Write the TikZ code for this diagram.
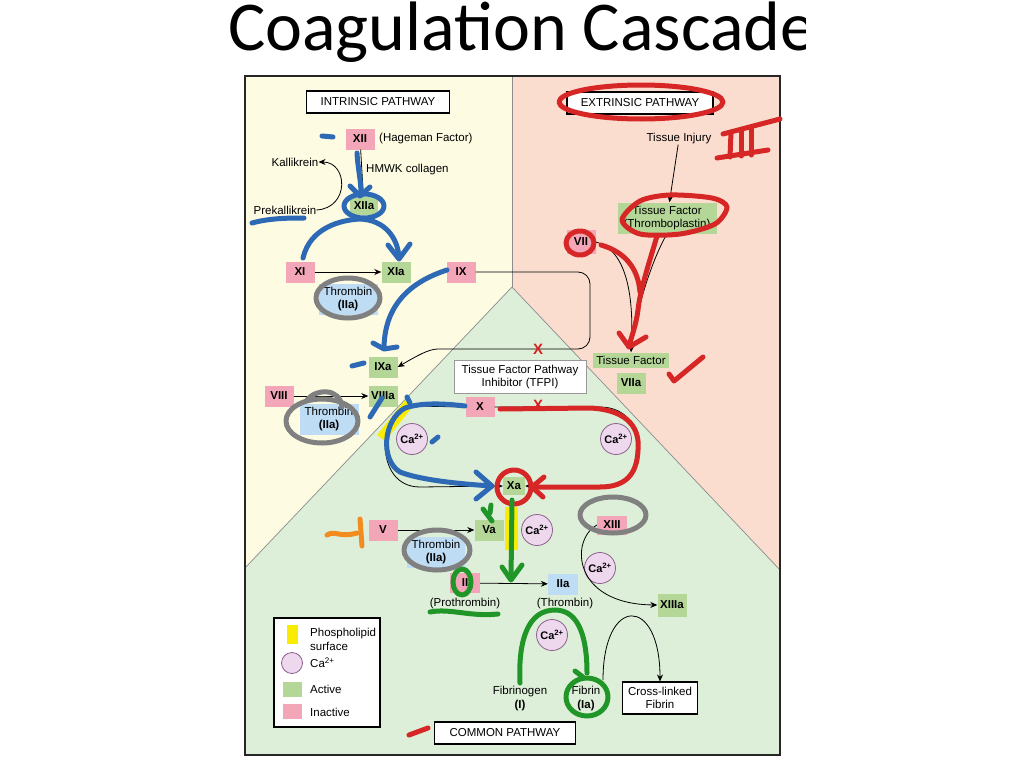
\documentclass[tikz,border=0pt]{standalone}
\usepackage{fontspec}
\setmainfont{Liberation Sans}
\newfontfamily\titlefont{Carlito}
\usetikzlibrary{arrows.meta,calc}
\definecolor{bgY}{RGB}{253,251,226}
\definecolor{bgR}{RGB}{251,221,207}
\definecolor{bgG}{RGB}{222,239,217}
\definecolor{pinkC}{RGB}{243,166,184}
\definecolor{greenC}{RGB}{180,215,152}
\definecolor{blueC}{RGB}{190,220,244}
\definecolor{caFill}{RGB}{238,216,238}
\definecolor{caDraw}{RGB}{140,95,140}
\definecolor{penBlue}{RGB}{45,105,180}
\definecolor{penRed}{RGB}{214,38,38}
\definecolor{penGreen}{RGB}{32,150,40}
\definecolor{penGray}{RGB}{128,128,128}
\definecolor{penOrange}{RGB}{242,140,30}
\definecolor{yel}{RGB}{250,236,0}
\definecolor{xred}{RGB}{220,30,30}
\tikzset{
  lbl/.style={font=\fontsize{11.5}{14}\selectfont, inner sep=0, align=center},
  fbox/.style={minimum width=29pt, minimum height=21pt, inner sep=0, font=\fontsize{11.5}{14}\selectfont\bfseries},
  pinkb/.style={fbox, fill=pinkC},
  greenb/.style={fbox, fill=greenC},
  blueb/.style={fbox, fill=blueC},
  thr/.style={fill=blueC, minimum width=59pt, minimum height=31pt, inner sep=0, align=center, font=\fontsize{11.5}{13.5}\selectfont},
  ca/.style={circle, draw=caDraw, line width=0.8pt, fill=caFill, minimum size=31pt, inner sep=0, font=\fontsize{11}{12}\selectfont\bfseries},
  hdr/.style={draw=black, fill=white, line width=1.1pt, minimum height=22pt, inner sep=0, font=\fontsize{11.5}{14}\selectfont},
  arr/.style={-{Stealth[length=7pt,width=6pt]}, line width=0.8pt},
  pen/.style={line width=5pt, line cap=round, line join=round},
  xmark/.style={text=xred, font=\fontsize{15}{15}\selectfont\bfseries, inner sep=0},
}
\begin{document}
\begin{tikzpicture}[x=1pt,y=-1pt]
\useasboundingbox (0,0) rectangle (1024,768);
\fill[white] (0,0) rectangle (1024,768);
% title
\node[anchor=base west, inner sep=0, font=\titlefont\fontsize{70}{80}\selectfont] (title) at (228,50) {Coagulation Cascade};
\fill[white] (806,0) rectangle (1024,72);
% backgrounds
\fill[bgY] (245,76) -- (512,76) -- (512,287) -- (245,568) -- cycle;
\fill[bgR] (512,76) -- (780,76) -- (780,570) -- (512,287) -- cycle;
\fill[bgG] (245,568) -- (512,287) -- (780,570) -- (780,755) -- (245,755) -- cycle;
\draw[black!45, line width=0.7pt] (512,76) -- (512,287);
\draw[black!45, line width=0.7pt] (245,568) -- (512,287) -- (780,570);
\draw[black!85, line width=1.6pt] (245,76) rectangle (780,755);
% headers
\node[hdr, minimum width=143pt] (intr) at (378,102) {INTRINSIC PATHWAY};
\node[hdr, minimum width=146pt] (extr) at (640,103) {EXTRINSIC PATHWAY};
\node[hdr, minimum width=141pt] (comm) at (505,733) {COMMON PATHWAY};
% intrinsic
\node[pinkb] (xii) at (360,139) {XII};
\node[lbl, anchor=west] (hag) at (379,139) {(Hageman Factor)};
\node[lbl] (kall) at (295,162) {Kallikrein};
\node[lbl, anchor=west] (hmwk) at (366,170) {HMWK collagen};
\node[greenb, minimum width=28pt, minimum height=18pt] (xiia) at (364,206) {XIIa};
\node[lbl] (prek) at (285,210) {Prekallikrein};
\node[pinkb] (xi) at (300,272) {XI};
\node[greenb] (xia) at (396,272) {XIa};
\node[pinkb] (ix) at (461,272) {IX};
\node[thr] (thr1) at (348,299) {Thrombin\\\textbf{(IIa)}};
\node[greenb] (ixa) at (383,367) {IXa};
\node[pinkb] (viii) at (279,396) {VIII};
\node[greenb] (viiia) at (383,396) {VIIIa};
\node[thr] (thr2) at (329,419) {Thrombin\\\textbf{(IIa)}};
\draw[arr] (xii) -- (xiia);
\draw[arr] (prek.east) .. controls (350,208) and (348,162) .. (kall.east);
\draw[arr] (xi) -- (xia);
\draw[arr] (viii) -- (viiia);
\draw[arr, rounded corners=12pt] (ix.east) -- (590,272) -- (590,349) -- (450,349) to[out=180,in=30] (ixa.east);
% extrinsic
\node[lbl] (inj) at (679,139) {Tissue Injury};
\node[fill=greenC, minimum width=99pt, minimum height=31pt, inner sep=0, align=center, font=\fontsize{11.5}{13.5}\selectfont] (tf) at (667,218) {Tissue Factor\\(Thromboplastin)};
\node[pinkb, minimum height=24pt] (vii) at (581,242) {VII};
\node[fill=greenC, minimum width=76pt, minimum height=15pt, inner sep=0, font=\fontsize{11.5}{14}\selectfont] (tfa) at (631,360) {Tissue Factor};
\node[greenb] (viia) at (631,383) {VIIa};
\draw[arr] (inj) -- (tf);
\draw[arr] (vii.east) .. controls (628,250) and (634,300) .. (tfa.north);
\draw[line width=0.8pt] (tf.south) .. controls (652,260) and (640,300) .. (634,330);
% common
\node[draw=black!40, fill=white, minimum width=132pt, minimum height=33pt, inner sep=0, align=center, font=\fontsize{11.5}{13.5}\selectfont] (tfpi) at (520,377) {Tissue Factor Pathway\\Inhibitor (TFPI)};
\node[pinkb, minimum height=20pt] (x) at (480,407) {X};
\node[greenb, minimum width=22pt, minimum height=18pt] (xa) at (514,486) {Xa};
\node[ca] (ca1) at (412,439) {Ca\textsuperscript{2+}};
\node[ca] (ca2) at (616,439) {Ca\textsuperscript{2+}};
\draw[arr] (x.west) -- (412,406) .. controls (378,406) and (372,487) .. (420,487) -- (xa.west);
\draw[arr] (x.east) -- (600,407) .. controls (652,407) and (652,487) .. (600,487) -- (xa.east);
\node[xmark] (xm1) at (538,349) {X};
\node[xmark] (xm2) at (538,405) {X};
\node[pinkb] (v) at (383,530) {V};
\node[greenb] (va) at (489,530) {Va};
\node[thr, minimum width=58pt] (thr3) at (436,552) {Thrombin\\\textbf{(IIa)}};
\node[ca] (ca3) at (537,530) {Ca\textsuperscript{2+}};
\node[pinkb, minimum width=30pt, minimum height=20pt] (ii) at (465,583) {II};
\node[lbl] (proth) at (465,604) {(Prothrombin)};
\node[blueb, minimum width=30pt] (iia) at (563,584) {IIa};
\node[lbl] (thrt) at (565,604) {(Thrombin)};
\draw[arr] (v) -- (va);
\draw[arr] (ii) -- (iia);
\node[pinkb, minimum width=30pt, minimum height=19pt] (xiii) at (612,525) {XIII};
\node[ca] (ca4) at (600,568) {Ca\textsuperscript{2+}};
\node[greenb, minimum height=23pt] (xiiia) at (672,605) {XIIIa};
\draw[arr] (xiii.west) .. controls (570,540) and (572,604) .. (xiiia.west);
\node[ca] (ca5) at (552,635) {Ca\textsuperscript{2+}};
\node[lbl] (fgen) at (520,699) {Fibrinogen\\\textbf{(I)}};
\node[lbl] (fib) at (586,699) {Fibrin\\\textbf{(Ia)}};
\node[draw=black, fill=white, line width=1.1pt, minimum width=75pt, minimum height=32pt, inner sep=0, align=center, font=\fontsize{11.5}{13.5}\selectfont] (cross) at (660,698) {Cross-linked\\Fibrin};
\draw[arr] (603,680) .. controls (603,595) and (660,595) .. (cross.north);
% legend
\node[draw=black, fill=white, line width=1.2pt, minimum width=106pt, minimum height=109pt, inner sep=0] (leg) at (327,672.5) {};
\fill[yel] (287,625) rectangle (298,644);
\node[lbl, anchor=west, align=left] (lg1) at (310,639) {Phospholipid\\surface};
\node[circle, draw=caDraw, line width=0.8pt, fill=caFill, minimum size=21pt, inner sep=0] (lgc) at (292,663) {};
\node[lbl, anchor=west] (lg2) at (310,663) {Ca\textsuperscript{2+}};
\fill[greenC] (283,682) rectangle (302,697);
\node[lbl, anchor=west] (lg3) at (310,689) {Active};
\fill[pinkC] (283,704) rectangle (302,719);
\node[lbl, anchor=west] (lg4) at (310,712) {Inactive};
% phospholipid surfaces
\draw[yel, line width=10pt] (381,438) -- (410,402);
\fill[yel] (505,507) rectangle (518,550);
% ===== hand-drawn annotations =====
% blue
\begin{scope}[pen, penBlue]
\draw (322,136) -- (333,137);
\draw (357,153) .. controls (358,170) and (361,180) .. (361,194);
\draw (350,186) -- (360,196) -- (370,187);
\draw (364,206) ellipse [x radius=20pt, y radius=12pt];
\draw (252,223) .. controls (270,218) and (290,218) .. (304,218);
\draw (303,258) .. controls (310,228) and (340,220) .. (360,219) .. controls (385,220) and (398,238) .. (399,258);
\draw (388,245) -- (399,259) -- (410,244);
\draw (447,270) .. controls (410,282) and (385,305) .. (384,347);
\draw (373,343) -- (384,349) -- (397,347);
\draw (352,366) -- (364,363);
\draw (382,398) -- (370,417);
\draw (465,406) .. controls (440,403) and (420,403) .. (405,408) .. controls (383,420) and (380,460) .. (400,472) .. controls (420,480) and (460,484) .. (492,486);
\draw (476,472) -- (492,486) -- (476,499);
\draw (407,397) -- (410,403);
\draw (432,442) -- (438,437);
\end{scope}
% red
\begin{scope}[pen, penRed]
\draw (641,102) ellipse [x radius=82pt, y radius=17pt];
\draw (723,134) -- (780,119);
\draw (731,132) -- (730,157);
\draw (741,131) -- (741,156);
\draw (751,129) -- (751,155);
\draw (717,158) -- (768,150);
\draw plot[smooth cycle] coordinates {(622,220) (640,201) (670,195) (712,198) (727,207) (715,224) (680,234) (640,234)};
\draw (657,236) .. controls (650,260) and (640,290) .. (638,310) .. controls (636,325) and (632,335) .. (629,346);
\draw (619,333) -- (629,347) -- (646,337);
\draw (601,245) .. controls (625,252) and (638,268) .. (640,292);
\draw (580,243) ellipse [x radius=14pt, y radius=12pt];
\draw (669,374) -- (674,381) -- (703,357);
\draw (500,409) -- (590,408) .. controls (630,410) and (640,430) .. (638,450) .. controls (637,475) and (625,487) .. (600,487) -- (532,487);
\draw (544,477) -- (532,487) -- (543,497);
\draw (514,487) circle [radius=17pt];
\draw (409,735) -- (428,728);
\end{scope}
% green
\begin{scope}[pen, penGreen]
\draw (512,500) -- (511,579);
\draw (502,567) -- (511,580) -- (522,565);
\draw (483,509) -- (492,521);
\draw (491,505) -- (490,513);
\draw (462,582) ellipse [x radius=9pt, y radius=13pt];
\draw (430,612) .. controls (450,608) and (470,617) .. (498,614);
\draw (520,683) .. controls (518,640) and (528,610) .. (555,610) .. controls (580,610) and (587,640) .. (587,673);
\draw (587,697) ellipse [x radius=21pt, y radius=19pt];
\draw (575,671) -- (583,677);
\end{scope}
% gray
\begin{scope}[pen, penGray]
\draw (348,298) ellipse [x radius=32pt, y radius=20pt];
\draw (322,421) ellipse [x radius=36pt, y radius=22pt];
\draw (307,400) .. controls (315,389) and (340,387) .. (342,407);
\draw (437,550) ellipse [x radius=33pt, y radius=20pt];
\draw (613,515) ellipse [x radius=33pt, y radius=18pt];
\end{scope}
% orange
\begin{scope}[pen, penOrange]
\draw (327,535) .. controls (335,530) and (340,538) .. (357,533);
\draw (360,519) -- (362,546);
\end{scope}
\end{tikzpicture}
\end{document}
